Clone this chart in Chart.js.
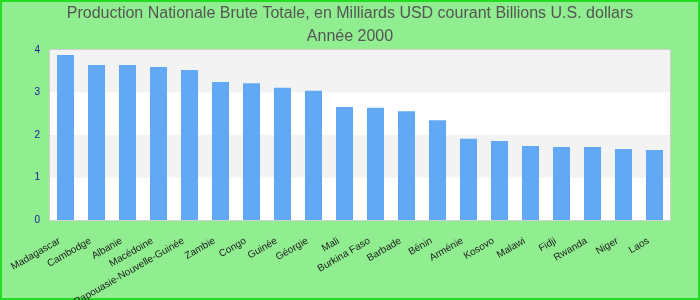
<!DOCTYPE html>
<html>
<head>
<meta charset="utf-8">
<script src="https://cdn.jsdelivr.net/npm/chart.js@4/dist/chart.umd.min.js"></script>
<style>
  body { margin: 0; background: #90ee90; }
  #box { width: 700px; height: 300px; }
</style>
</head>
<body>
<div id="box"><canvas id="chart" width="700" height="300"></canvas></div>
<script>
const pays = ["Madagascar", "Cambodge", "Albanie", "Macédoine", "Papouasie-Nouvelle-Guinée",
  "Zambie", "Congo", "Guinée", "Géorgie", "Mali", "Burkina Faso", "Barbade", "Bénin",
  "Arménie", "Kosovo", "Malawi", "Fidji", "Rwanda", "Niger", "Laos"];
const valeurs = [3.88, 3.65, 3.65, 3.60, 3.53, 3.25, 3.22, 3.11, 3.04, 2.66, 2.64, 2.56, 2.35,
  1.91, 1.86, 1.74, 1.72, 1.72, 1.67, 1.65];
const titre = ["Production Nationale Brute Totale, en Milliards USD courant Billions U.S. dollars", "Année 2000"];

// fond vert, bandes grises et cadre
const fond = {
  id: "fond",
  beforeDraw(chart) {
    const { ctx, chartArea: a, scales } = chart;
    ctx.save();
    ctx.fillStyle = "#90ee90";
    ctx.fillRect(0, 0, chart.width, chart.height);
    ctx.fillStyle = "#ffffff";
    ctx.fillRect(a.left, a.top, a.right - a.left, a.bottom - a.top);
    ctx.fillStyle = "#f3f3f3";
    for (let v = 1; v < 4; v += 2) {
      const y1 = scales.y.getPixelForValue(v + 1);
      const y0 = scales.y.getPixelForValue(v);
      ctx.fillRect(a.left, y1, a.right - a.left, y0 - y1);
    }
    ctx.strokeStyle = "#d0d0d0";
    ctx.lineWidth = 1;
    ctx.strokeRect(a.left - 0.5, a.top - 0.5, a.right - a.left + 1, a.bottom - a.top + 1);
    ctx.strokeStyle = "#22dd22";
    ctx.lineWidth = 2;
    ctx.strokeRect(1, 1, chart.width - 2, chart.height - 2);
    ctx.restore();
  }
};

const ctx = document.getElementById("chart");
new Chart(ctx, {
  type: "bar",
  data: {
    labels: pays,
    datasets: [{
      data: valeurs,
      backgroundColor: "#62a9f5",
      barPercentage: 0.55,
      categoryPercentage: 1
    }]
  },
  options: {
    responsive: false,
    animation: false,
    layout: { padding: 0 },
    plugins: {
      legend: { display: false },
      tooltip: { enabled: false },
      title: {
        display: true,
        text: titre,
        color: "#555555",
        font: { family: "'Liberation Sans Narrow', 'Liberation Sans', Arial", size: 16, weight: "normal", lineHeight: 1.45 },
        padding: { top: 2, bottom: 1.6 }
      }
    },
    scales: {
      x: {
        grid: { display: false },
        border: { display: false },
        ticks: {
          color: "#222222",
          font: { family: "'Liberation Sans', Arial", size: 10 },
          minRotation: 30,
          maxRotation: 30,
          autoSkip: false,
          labelOffset: -6,
          padding: 7
        },
        afterFit(scale) { scale.height = 80; }
      },
      y: {
        min: 0,
        max: 4,
        grid: { display: false, drawTicks: false },
        border: { display: false },
        ticks: {
          stepSize: 1,
          color: "#1a1a9a",
          font: { family: "'Liberation Sans', Arial", size: 10 },
          padding: 10
        },
        afterFit(scale) { scale.width = 50; }
      },
      droite: {
        position: "right",
        grid: { display: false, drawTicks: false },
        border: { display: false },
        ticks: { display: false },
        afterFit(scale) { scale.width = 30; }
      }
    }
  },
  plugins: [fond]
});
</script>
</body>
</html>
